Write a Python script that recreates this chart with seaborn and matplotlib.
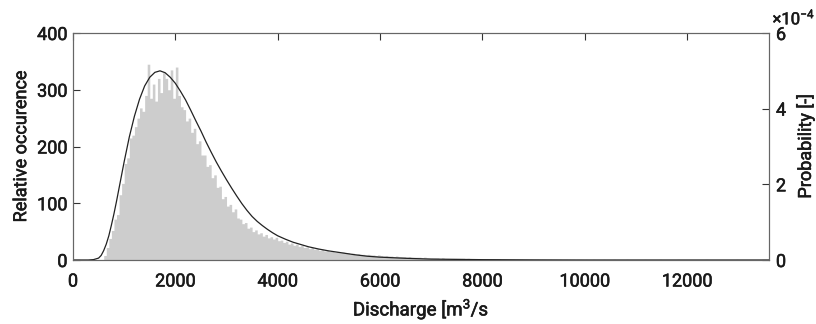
import numpy as np
import pandas as pd
import matplotlib
matplotlib.use("Agg")
import matplotlib.pyplot as plt
import matplotlib.patheffects as pe
import seaborn as sns

# ---- data ----
bin_start = 550
bin_width = 50
counts_core = [
    0, 8, 22, 38, 52, 72, 80, 115, 135, 170,            # 550-1000
    180, 215, 220, 235, 250, 268, 262, 290, 345, 285,    # 1050-1500
    310, 280, 320, 295, 330, 320, 300, 335, 285, 340,    # 1550-2000
    290, 270, 265, 245, 250, 225, 232, 205, 210, 185,    # 2050-2500
    185, 165, 168, 145, 150, 128, 130, 108, 112, 95,     # 2550-3000
    98, 85, 90, 74, 72, 64, 66, 56, 58, 50,              # 3050-3500
    53, 46, 48, 42, 45, 39, 41, 37, 40, 34,              # 3550-4000
    35, 31, 33, 28, 30, 26, 28, 24, 26, 22,              # 4050-4500
    23, 20, 22, 19, 20, 17, 19, 16, 17, 15,              # 4550-5000
]
counts_tail = [
    15, 14, 15, 13, 14, 12, 13, 11, 12, 10,   # 5050-5500
    11, 10, 10, 9, 10, 9, 9, 8, 9, 8,         # 5550-6000
    7, 8, 7, 7, 6, 7, 6, 6, 6, 5,             # 6050-6500
    6, 5, 5, 5, 5, 4, 5, 4, 4, 4,             # 6550-7000
    4, 4, 3, 4, 3, 3, 3, 3, 3, 3,             # 7050-7500
    3, 3, 2, 3, 2, 2, 2, 2, 2, 2,             # 7550-8000
    2, 2, 2, 2, 2, 2, 1, 1, 1, 1,             # 8050-8500
    1, 1, 1, 1, 1, 1, 1, 1, 1, 1,             # 8550-9000
    1, 0, 1, 1, 0, 1, 0, 1, 0, 1,             # 9050-9500
    0, 1, 0, 0, 1, 0, 1, 0, 0, 1,             # 9550-10000
    0, 0, 1, 0, 0, 0, 1, 0, 0, 0,             # 10050-10500
    1, 0, 0, 0, 0, 1, 0, 0, 0, 0,             # 10550-11000
    0, 0, 1, 0, 0, 0, 0, 0, 1, 0,             # 11050-11500
    0, 0, 0, 0, 0, 1, 0, 0, 0, 0,             # 11550-12000
    0, 0, 0, 0, 0, 0, 1, 0, 0, 0,             # 12050-12500
    0, 0, 0, 0, 0, 0, 0, 0, 1, 0,             # 12550-13000
    0, 0, 0, 0, 0, 0, 0, 0, 0, 0, 0, 1,       # 13050-13600
]
counts = counts_core + counts_tail

curve_x = [0, 300, 400, 500, 550, 600, 650, 700, 750, 800, 850, 900, 950,
           1000, 1100, 1200, 1300, 1400, 1500, 1600, 1700, 1800, 1900, 2000,
           2100, 2200, 2300, 2400, 2500, 2600, 2700, 2800, 2900, 3000, 3100,
           3200, 3300, 3400, 3500, 3600, 3700, 3800, 3900, 4000, 4150, 4300,
           4450, 4600, 4800, 5000, 5250, 5500, 5750, 6000, 6500, 7000, 8000,
           9000, 10000, 11000, 12000, 13000, 13600]
curve_pdf_e4 = [0, 0, 0.01, 0.05, 0.12, 0.25, 0.42, 0.64, 0.92, 1.22, 1.55,
                1.90, 2.25, 2.60, 3.25, 3.80, 4.25, 4.60, 4.83, 4.96, 5.00,
                4.95, 4.83, 4.67, 4.46, 4.23, 3.96, 3.68, 3.41, 3.12, 2.85,
                2.59, 2.35, 2.12, 1.90, 1.69, 1.49, 1.31, 1.15, 1.02, 0.91,
                0.81, 0.72, 0.64, 0.55, 0.47, 0.41, 0.35, 0.29, 0.24, 0.19,
                0.14, 0.10, 0.075, 0.045, 0.023, 0.009, 0.003, 0, 0, 0, 0, 0]

x_ticks = [0, 2000, 4000, 6000, 8000, 10000, 12000]
y_left_ticks = [0, 100, 200, 300, 400]
y_right_ticks = [0, 2e-4, 4e-4, 6e-4]
y_right_labels = ["0", "2", "4", "6"]

# ---- build ----
n_bins = len(counts)
centers = bin_start + bin_width * (np.arange(n_bins) + 0.5)
df = pd.DataFrame({"x": centers, "w": np.array(counts, dtype=float)})
curve = pd.DataFrame({"x": curve_x, "p": np.array(curve_pdf_e4) * 1e-4})

sns.set_theme(style="white")
plt.rcParams["font.family"] = ["Roboto", "DejaVu Sans"]
plt.rcParams["mathtext.fontset"] = "custom"
plt.rcParams["mathtext.rm"] = "Roboto"
plt.rcParams["mathtext.it"] = "Roboto"

txt = "#1a1a1a"
bold = [pe.withStroke(linewidth=0.4, foreground=txt)]

fig = plt.figure(figsize=(8.16, 3.24), dpi=100)
ax = fig.add_axes([73 / 816, 64 / 324, 696 / 816, 227 / 324])

sns.histplot(data=df, x="x", weights="w", binwidth=bin_width,
             binrange=(bin_start, bin_start + bin_width * n_bins),
             element="step", fill=True,
             color="#cdcdcd", alpha=1, linewidth=0, ax=ax)
ax.set_xlim(0, 13600)
ax.set_ylim(0, 400)
ax.set_xticks(x_ticks)
ax.set_yticks(y_left_ticks)
ax.set_xlabel("Discharge [m$^3$/s", fontsize=13.5, color=txt, labelpad=5)
ax.set_ylabel("Relative occurence", fontsize=13, color=txt, labelpad=5)

ax2 = ax.twinx()
sns.lineplot(data=curve, x="x", y="p", color="#222222", linewidth=0.9, ax=ax2)
ax2.set_ylim(0, 6e-4)
ax2.set_yticks(y_right_ticks)
ax2.set_yticklabels(y_right_labels)
ax2.set_ylabel("Probability [-]", fontsize=13, color=txt, labelpad=7)
ax2.text(1.005, 1.025, r"$\times$10$^{-4}$", transform=ax2.transAxes,
         ha="left", va="bottom", fontsize=12, color=txt, path_effects=bold)

for a in (ax, ax2):
    for s in a.spines.values():
        s.set_color("#666666")
        s.set_linewidth(0.8)
    a.tick_params(direction="in", length=5, width=0.8, color="#333333",
                  labelsize=13, labelcolor=txt)
ax.tick_params(axis="x", top=True, pad=9)
ax.tick_params(axis="y", left=True, right=False, pad=4)
ax2.tick_params(axis="y", right=True, left=False, pad=5)

for t in (ax.get_xticklabels() + ax.get_yticklabels() + ax2.get_yticklabels()
          + [ax.xaxis.label, ax.yaxis.label, ax2.yaxis.label]):
    t.set_path_effects(bold)

fig.savefig("out.png", dpi=100)
